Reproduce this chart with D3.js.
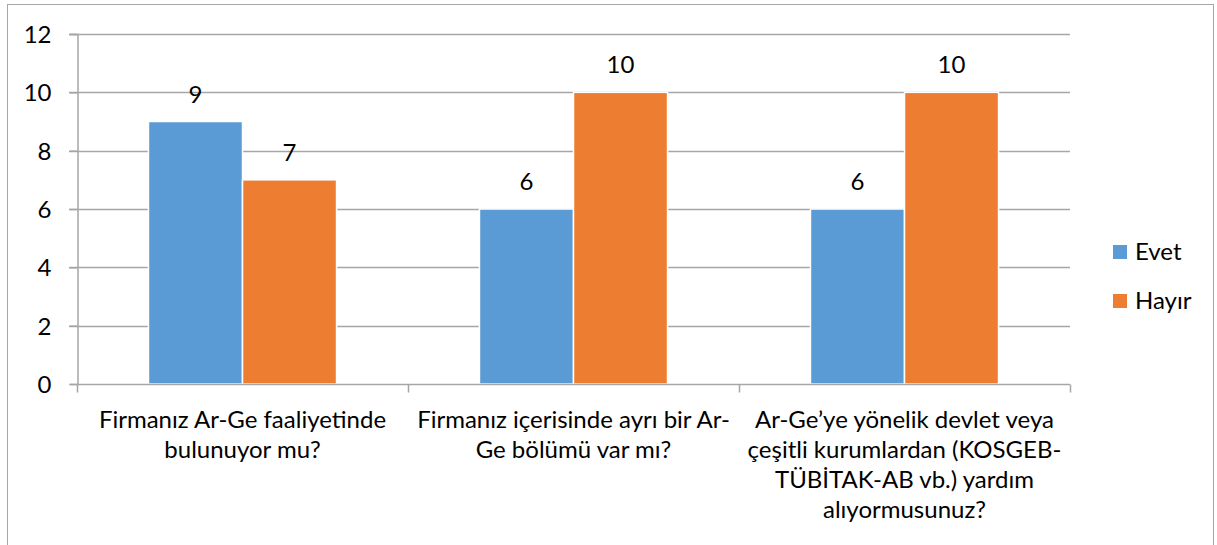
<!DOCTYPE html>
<html>
<head>
<meta charset="utf-8">
<script src="https://cdnjs.cloudflare.com/ajax/libs/d3/7.8.5/d3.min.js"></script>
<style>
  body { margin: 0; background: #fff; }
  svg text { font-family: Lato, "Open Sans", sans-serif; fill: #000; }
</style>
</head>
<body>
<div id="chart"></div>
<script>
// data
const categories = [
    'Firmanız Ar-Ge faaliyetinde bulunuyor mu?',
    'Firmanız içerisinde ayrı bir Ar-Ge bölümü var mı?',
    'Ar-Ge’ye yönelik devlet veya çeşitli kurumlardan (KOSGEB-TÜBİTAK-AB vb.) yardım alıyormusunuz?'
];
// category labels as they wrap in the picture
const categoryLines = [
    ['Firmanız Ar-Ge faaliyetinde', 'bulunuyor mu?'],
    ['Firmanız içerisinde ayrı bir Ar-', 'Ge bölümü var mı?'],
    ['Ar-Ge’ye yönelik devlet veya', 'çeşitli kurumlardan (KOSGEB-', 'TÜBİTAK-AB vb.) yardım', 'alıyormusunuz?']
];
const seriesNames = ['Evet', 'Hayır'];
const evet = [9, 6, 6];
const hayir = [7, 10, 10];
const yTicks = [0, 2, 4, 6, 8, 10, 12];
const colors = ['#5B9BD5', '#ED7D31'];

const values = [evet, hayir];
const width = 1217, height = 545;

const svg = d3.select('#chart')
    .append('svg')
    .attr('width', width)
    .attr('height', height);

// outer chart border
svg.append('rect')
    .attr('x', 7.5).attr('y', 4.5)
    .attr('width', 1206).attr('height', 580)
    .attr('fill', 'none')
    .attr('stroke', '#a6a6a6');

const plot = { left: 77, right: 1070, top: 34, bottom: 384 };

const x0 = d3.scaleBand().domain(categories).range([plot.left, plot.right]).padding(0);
const x1 = d3.scaleBand().domain(seriesNames).range([0, x0.bandwidth()]).paddingInner(0).paddingOuter(0.76);
const y = d3.scaleLinear().domain([0, 12]).range([plot.bottom, plot.top]);

// gridlines
svg.append('g')
    .selectAll('line')
    .data(yTicks.filter(t => t > 0))
    .enter()
    .append('line')
    .attr('x1', plot.left - 8).attr('x2', plot.right)
    .attr('y1', d => Math.round(y(d)) + 0.5).attr('y2', d => Math.round(y(d)) + 0.5)
    .attr('stroke', '#a6a6a6')
    .attr('stroke-width', 1.5);

// y axis
const yAxis = svg.append('g')
    .attr('transform', `translate(${plot.left + 0.5},0)`)
    .call(d3.axisLeft(y).tickValues(yTicks).tickSize(8).tickPadding(18));
yAxis.selectAll('path, line').attr('stroke', '#a6a6a6').attr('stroke-width', 1.5);
yAxis.selectAll('text').style('font-size', '24px').attr('dy', '0.36em');

// bars
const groups = svg.append('g')
    .selectAll('g')
    .data(categories)
    .enter()
    .append('g')
    .attr('transform', d => `translate(${x0(d)},0)`);

groups.selectAll('rect')
    .data((d, i) => seriesNames.map((s, j) => ({ s: s, v: values[j][i], c: colors[j] })))
    .enter()
    .append('rect')
    .attr('x', d => x1(d.s))
    .attr('y', d => y(d.v))
    .attr('width', x1.bandwidth())
    .attr('height', d => y(0) - y(d.v))
    .attr('fill', d => d.c)
    .attr('stroke', '#fff')
    .attr('stroke-width', 1.5);

// value labels
groups.selectAll('text.val')
    .data((d, i) => seriesNames.map((s, j) => ({ s: s, v: values[j][i] })))
    .enter()
    .append('text')
    .attr('class', 'val')
    .attr('x', d => x1(d.s) + x1.bandwidth() / 2)
    .attr('y', d => y(d.v) - 19)
    .attr('text-anchor', 'middle')
    .style('font-size', '24px')
    .text(d => d.v);

// x axis
const xAxis = svg.append('g')
    .attr('transform', `translate(0,${plot.bottom + 0.5})`);
xAxis.append('line')
    .attr('x1', plot.left).attr('x2', plot.right)
    .attr('stroke', '#a6a6a6').attr('stroke-width', 1.5);
xAxis.selectAll('line.tick')
    .data(categories.map(c => x0(c)).concat([plot.right]))
    .enter()
    .append('line')
    .attr('class', 'tick')
    .attr('x1', d => d + 0.5).attr('x2', d => d + 0.5)
    .attr('y1', 0).attr('y2', 8)
    .attr('stroke', '#a6a6a6').attr('stroke-width', 1.5);

xAxis.selectAll('text.cat')
    .data(categories)
    .enter()
    .append('text')
    .attr('class', 'cat')
    .attr('x', d => x0(d) + x0.bandwidth() / 2)
    .attr('y', 43)
    .attr('text-anchor', 'middle')
    .style('font-size', '24px')
    .each(function (d, i) {
        const t = d3.select(this);
        categoryLines[i].forEach((line, k) => {
            t.append('tspan')
                .attr('x', x0(d) + x0.bandwidth() / 2)
                .attr('dy', k === 0 ? 0 : 30)
                .text(line);
        });
    });

// legend
const legend = svg.append('g')
    .selectAll('g')
    .data(seriesNames)
    .enter()
    .append('g')
    .attr('transform', (d, i) => `translate(1113,${245 + i * 49})`);

legend.append('rect')
    .attr('width', 14).attr('height', 14)
    .attr('fill', (d, i) => colors[i]);

legend.append('text')
    .attr('x', 22).attr('y', 15)
    .style('font-size', '24px')
    .text(d => d);
</script>
</body>
</html>
